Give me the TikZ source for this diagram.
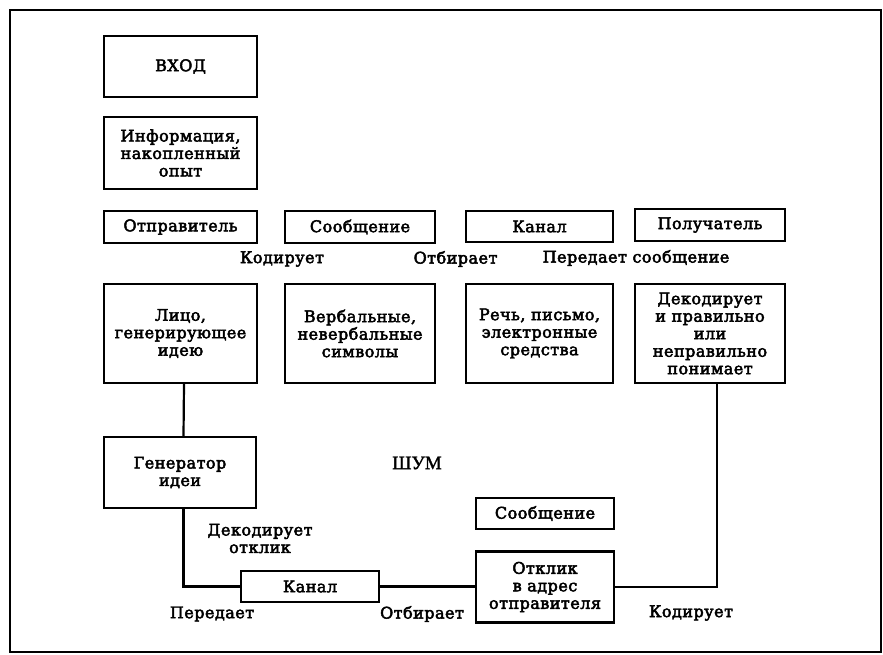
\documentclass[tikz,border=0pt]{standalone}
\usepackage{fontspec}
\setmainfont{DejaVu Serif}[LetterSpace=3,FakeBold=3]
\newfontfamily\noisefont{Liberation Serif}[FakeBold=1.5]
\usetikzlibrary{calc}

\tikzset{
  lbl/.style={font=\fontsize{16}{17.5}\selectfont, inner sep=0pt, align=center},
  box/.style={lbl, draw, line width=2.2pt},
  link/.style={line width=2.2pt},
}

\begin{document}
\begin{tikzpicture}[x=1pt,y=-1pt]
  \useasboundingbox (0,0) rectangle (883,655);
  % outer frame
  \draw[line width=2.2pt] (10,10) rectangle (881,652);

  % left column
  \node[box, minimum width=153pt, minimum height=61pt]  (vhod)  at (180.5,66.5)  {ВХОД};
  \node[box, minimum width=153pt, minimum height=72pt]  (info)  at (180.5,153)   {Информация,\\накопленный\\опыт};

  % top row of titles
  \node[box, minimum width=153pt, minimum height=32pt]  (sender)  at (180.5,227) {Отправитель};
  \node[box, minimum width=150pt, minimum height=32pt]  (msg)     at (360,227)   {Сообщение};
  \node[box, minimum width=147pt, minimum height=31pt]  (chan)    at (539.5,226.5) {Канал};
  \node[box, minimum width=150pt, minimum height=32pt]  (recv)    at (710,225)   {Получатель};

  % action words between the rows
  \node[lbl] (enc1)  at (282,259)   {Кодирует};
  \node[lbl] (sel1)  at (455.5,259) {Отбирает};
  \node[lbl] (send1) at (636,258)   {Передает сообщение};

  % second row of descriptions
  \node[box, minimum width=153pt, minimum height=99pt] (person) at (180.5,333.5) {Лицо,\\генерирующее\\идею};
  \node[box, minimum width=150pt, minimum height=99pt] (symb)   at (360,333.5)   {Вербальные,\\невербальные\\символы};
  \node[box, minimum width=147pt, minimum height=99pt] (media)  at (539.5,333.5) {Речь, письмо,\\электронные\\средства};
  \node[box, minimum width=150pt, minimum height=99pt] (decode) at (710,333.5)   {Декодирует\\и правильно\\или\\неправильно\\понимает};

  % feedback loop
  \node[box, minimum width=152pt, minimum height=71pt] (gen)    at (180,472.5)   {Генератор\\идеи};
  \node[box, minimum width=138pt, minimum height=31pt] (chan2)  at (310,586.5)   {Канал};
  \node[box, minimum width=138pt, minimum height=31pt] (msg2)   at (545,513.5)   {Сообщение};
  \node[box, minimum width=138pt, minimum height=71pt] (reply)  at (545,587)     {Отклик\\в адрес\\отправителя};

  \node[font=\noisefont\fontsize{19}{22}\selectfont, inner sep=0pt] (noise) at (417,463) {ШУМ};
  \node[lbl] (dec2)  at (260,538.5) {Декодирует\\отклик};
  \node[lbl] (send2) at (212,614)   {Передает};
  \node[lbl] (sel2)  at (422,614)   {Отбирает};
  \node[lbl] (enc2)  at (691,613)   {Кодирует};

  % connectors
  \draw[link] ([xshift=3.5pt]person.south) -- ([xshift=3.5pt]gen.north);
  \draw[link] ([xshift=3.5pt]gen.south) |- (chan2.west);
  \draw[link] (chan2.east) -- (chan2.east -| reply.west);
  \draw[link] (reply.east) -| ([xshift=7pt]decode.south);
\end{tikzpicture}
\end{document}
